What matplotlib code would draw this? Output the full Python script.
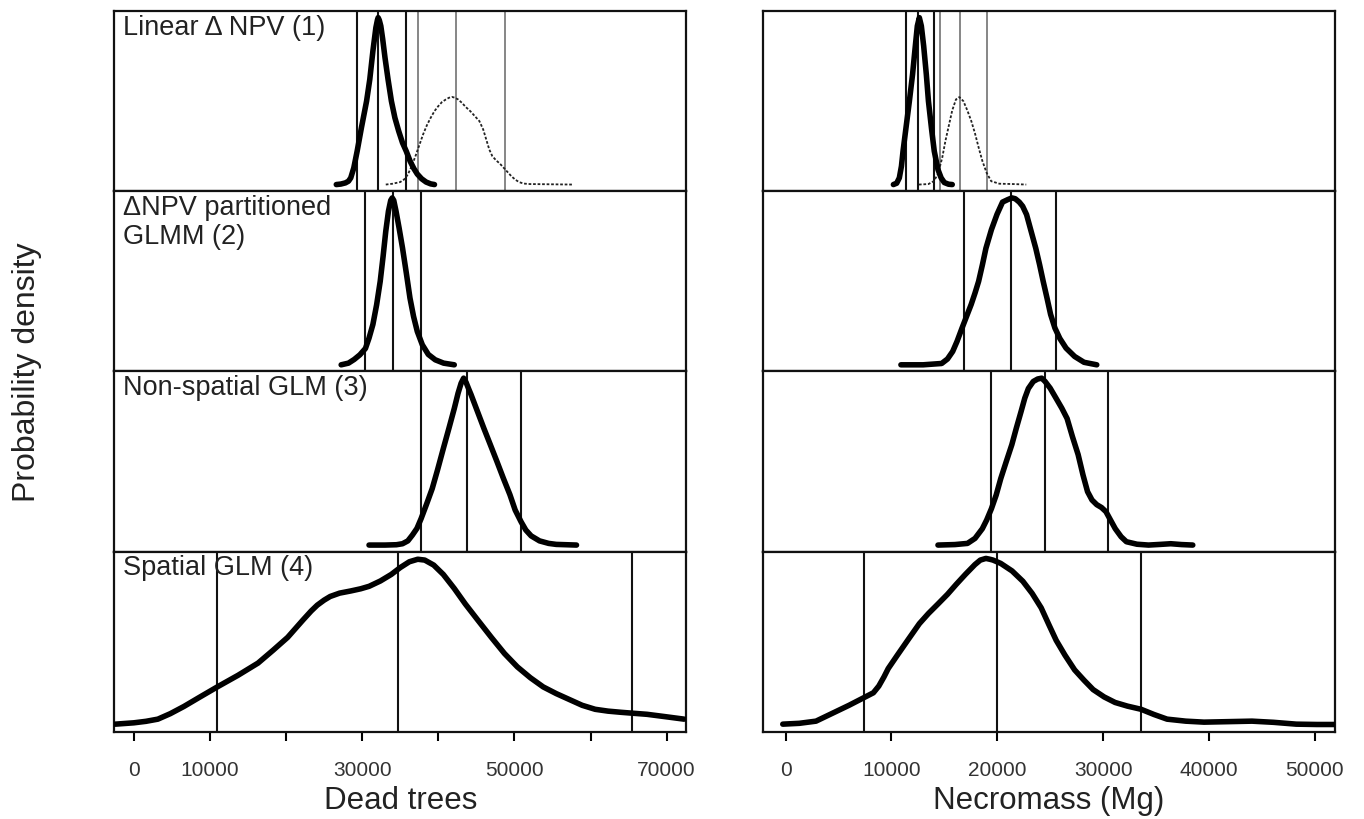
import matplotlib
matplotlib.use("Agg")
import matplotlib.pyplot as plt

plt.rcParams["font.family"] = ["Liberation Sans", "DejaVu Sans"]

# --- Dead trees (left column) ---
deadXLim = (-2600, 72600)
deadTicks = [0, 10000, 20000, 30000, 40000, 50000, 60000, 70000]
deadTickLabels = ["0", "10000", "", "30000", "", "50000", "", "70000"]

# panel 1: two densities (thick = model, thin dotted = comparison)
dead1X = [26600, 27200, 27800, 28200, 28500, 28900, 29340, 29900, 30580, 31000, 31410, 31800, 32000, 32100, 32250, 32450, 32700, 33000, 33400, 33840, 34300, 34800, 35300, 35790, 36300, 36800, 37240, 37800, 38400, 39000, 39500]
dead1Y = [0.0, 0.003, 0.01, 0.02, 0.04, 0.10, 0.20, 0.34, 0.50, 0.63, 0.80, 0.94, 0.985, 1.0, 0.985, 0.95, 0.87, 0.76, 0.63, 0.50, 0.40, 0.32, 0.25, 0.20, 0.14, 0.095, 0.063, 0.035, 0.015, 0.004, 0.0]
dead1bX = [33100, 34000, 35000, 35500, 36000, 36500, 37000, 37500, 38000, 38500, 39000, 39500, 40000, 40500, 41000, 41400, 41800, 42200, 42600, 43100, 43600, 44200, 44800, 45400, 45900, 46300, 46700, 47100, 47600, 48100, 48600, 49100, 49600, 50100, 50600, 51200, 52000, 54000, 57600]
dead1bY = [0.0, 0.005, 0.015, 0.03, 0.06, 0.11, 0.17, 0.235, 0.30, 0.355, 0.40, 0.44, 0.47, 0.495, 0.51, 0.52, 0.525, 0.52, 0.51, 0.49, 0.465, 0.44, 0.41, 0.38, 0.33, 0.27, 0.21, 0.17, 0.145, 0.125, 0.10, 0.075, 0.05, 0.03, 0.015, 0.006, 0.003, 0.002, 0.0]
dead1Lines = [29340, 32100, 35790]
dead1bLines = [37370, 42370, 48820]

dead2X = [27240, 28200, 28950, 29700, 30430, 30900, 31410, 31900, 32370, 32750, 33100, 33450, 33750, 33950, 34150, 34450, 34850, 35300, 35800, 36280, 36750, 37240, 37900, 38690, 39600, 40700, 42100]
dead2Y = [0.0, 0.01, 0.032, 0.06, 0.098, 0.16, 0.242, 0.36, 0.50, 0.65, 0.80, 0.92, 0.985, 1.0, 0.985, 0.92, 0.82, 0.70, 0.55, 0.40, 0.29, 0.20, 0.12, 0.062, 0.03, 0.01, 0.0]
dead2Lines = [30430, 34080, 37740]

dead3X = [30900, 33000, 34500, 35300, 36000, 36600, 37200, 37740, 38500, 39200, 39900, 40660, 41400, 42100, 42600, 43000, 43330, 43650, 44000, 44300, 45150, 46000, 46850, 47710, 48550, 49410, 50100, 50870, 51500, 52200, 53300, 54500, 55500, 58160]
dead3Y = [0.0, 0.0, 0.002, 0.008, 0.025, 0.06, 0.10, 0.158, 0.25, 0.338, 0.45, 0.578, 0.70, 0.818, 0.91, 0.97, 1.0, 0.975, 0.935, 0.902, 0.80, 0.698, 0.60, 0.50, 0.40, 0.302, 0.21, 0.14, 0.09, 0.055, 0.025, 0.01, 0.004, 0.0]
dead3Lines = [37740, 43820, 50880]

dead4X = [-2430, 0, 1600, 3160, 4800, 6580, 8700, 10960, 13700, 16320, 18300, 20210, 22200, 23300, 24100, 25000, 25800, 27030, 28500, 29800, 30920, 32400, 33820, 35000, 36200, 37300, 38220, 39400, 40660, 42100, 43550, 45200, 46970, 48700, 50390, 52100, 53790, 55500, 57200, 58900, 60610, 62300, 64010, 65700, 67420, 69800, 72290]
dead4Y = [0.007, 0.015, 0.024, 0.037, 0.07, 0.113, 0.17, 0.23, 0.30, 0.373, 0.45, 0.527, 0.63, 0.685, 0.72, 0.75, 0.772, 0.792, 0.805, 0.818, 0.833, 0.865, 0.904, 0.945, 0.98, 0.995, 0.99, 0.96, 0.904, 0.82, 0.727, 0.63, 0.527, 0.43, 0.35, 0.285, 0.23, 0.19, 0.155, 0.12, 0.096, 0.085, 0.078, 0.072, 0.066, 0.052, 0.037]
dead4Lines = [10960, 34710, 65470]

# --- Necromass (right column) ---
massXLim = (-2170, 51900)
massTicks = [0, 10000, 20000, 30000, 40000, 50000]
massTickLabels = ["0", "10000", "20000", "30000", "40000", "50000"]

mass1X = [10190, 10500, 10750, 10950, 11100, 11400, 11700, 12000, 12230, 12450, 12640, 12830, 13050, 13300, 13500, 13800, 14050, 14400, 14700, 15000, 15400, 15750]
mass1Y = [0.0, 0.008, 0.04, 0.11, 0.20, 0.35, 0.50, 0.66, 0.81, 0.95, 1.0, 0.95, 0.83, 0.66, 0.50, 0.33, 0.20, 0.09, 0.04, 0.012, 0.002, 0.0]
mass1bX = [12600, 13500, 14000, 14400, 14800, 15100, 15450, 15750, 16100, 16420, 16800, 17170, 17550, 17900, 18250, 18590, 19000, 19430, 20200, 21500, 22740]
mass1bY = [0.0, 0.003, 0.02, 0.063, 0.16, 0.26, 0.36, 0.445, 0.51, 0.524, 0.50, 0.445, 0.38, 0.306, 0.22, 0.142, 0.07, 0.02, 0.005, 0.003, 0.0]
mass1Lines = [11400, 12550, 14060]
mass1bLines = [14570, 16490, 19000]

mass2X = [10900, 13000, 14750, 15300, 15790, 16200, 16660, 17100, 17540, 17900, 18240, 18600, 18930, 19450, 19980, 20500, 21000, 21380, 21700, 22080, 22400, 22770, 23200, 23640, 24000, 24340, 24700, 25040, 25450, 25910, 26500, 27310, 28200, 29400]
mass2Y = [0.0, 0.0, 0.008, 0.035, 0.08, 0.14, 0.218, 0.29, 0.362, 0.43, 0.50, 0.60, 0.698, 0.81, 0.902, 0.975, 0.99, 1.0, 0.995, 0.975, 0.95, 0.90, 0.80, 0.698, 0.60, 0.50, 0.40, 0.302, 0.22, 0.158, 0.10, 0.05, 0.015, 0.0]
mass2Lines = [16840, 21300, 25570]

mass3X = [14400, 16000, 17190, 17900, 18590, 19000, 19450, 19900, 20330, 20850, 21380, 21800, 22250, 22600, 22940, 23400, 23820, 24200, 24520, 25000, 25570, 26100, 26600, 27100, 27640, 28100, 28530, 28950, 29400, 29850, 30270, 30700, 31150, 31700, 32200, 33200, 34290, 35400, 36390, 37400, 38470]
mass3Y = [0.0, 0.003, 0.01, 0.04, 0.098, 0.15, 0.218, 0.30, 0.398, 0.50, 0.602, 0.70, 0.80, 0.88, 0.938, 0.98, 0.995, 1.0, 0.98, 0.94, 0.878, 0.82, 0.758, 0.65, 0.542, 0.42, 0.32, 0.27, 0.242, 0.225, 0.20, 0.15, 0.098, 0.05, 0.02, 0.005, 0.0, 0.004, 0.008, 0.003, 0.0]
mass3Lines = [19450, 24520, 30450]

mass4X = [-260, 1300, 2880, 3700, 4620, 6000, 7440, 8300, 8810, 9300, 9700, 10560, 11600, 12640, 13500, 14400, 15300, 16130, 17000, 17890, 18400, 18930, 19300, 19600, 20330, 21400, 22420, 23300, 24150, 24900, 25570, 26400, 27310, 28200, 29060, 30100, 31130, 32300, 33590, 34800, 36040, 37800, 39530, 41800, 44060, 46100, 48250, 50200, 52100]
mass4Y = [0.007, 0.012, 0.025, 0.05, 0.078, 0.12, 0.167, 0.195, 0.235, 0.29, 0.34, 0.42, 0.515, 0.609, 0.67, 0.727, 0.785, 0.845, 0.905, 0.963, 0.99, 1.0, 0.995, 0.99, 0.97, 0.925, 0.863, 0.79, 0.704, 0.60, 0.509, 0.42, 0.332, 0.27, 0.214, 0.17, 0.137, 0.115, 0.096, 0.065, 0.037, 0.025, 0.019, 0.022, 0.025, 0.018, 0.007, 0.005, 0.005]
mass4Lines = [7390, 19930, 33590]

panelTitles = ["Linear \u0394 NPV (1)", "\u0394NPV partitioned\nGLMM (2)", "Non-spatial GLM (3)", "Spatial GLM (4)"]


def DrawPanel(ax, xValues, yValues, lines, xLim, secondX=None, secondY=None, secondLines=None):
    for v in lines:
        ax.axvline(v, color="#111111", linewidth=1.5, zorder=2)
    if secondLines is not None:
        for v in secondLines:
            ax.axvline(v, color="#666666", linewidth=1.1, zorder=2)
    if secondX is not None:
        ax.plot(secondX, secondY, color="#222222", linewidth=1.3, linestyle=(0, (1.5, 1.0)), zorder=3)
    ax.plot(xValues, yValues, color="black", linewidth=4, solid_capstyle="round",
            solid_joinstyle="round", zorder=4)
    ax.set_xlim(*xLim)
    ax.set_ylim(-0.04, 1.04)
    ax.set_yticks([])
    for s in ax.spines.values():
        s.set_linewidth(1.6)
        s.set_color("#111111")


fig, axes = plt.subplots(4, 2, figsize=(13.64, 8.2), dpi=100)
fig.subplots_adjust(left=0.0836, right=0.9787, top=0.9854, bottom=0.1061, hspace=0, wspace=0.133)

deadData = [(dead1X, dead1Y, dead1Lines), (dead2X, dead2Y, dead2Lines), (dead3X, dead3Y, dead3Lines), (dead4X, dead4Y, dead4Lines)]
massData = [(mass1X, mass1Y, mass1Lines), (mass2X, mass2Y, mass2Lines), (mass3X, mass3Y, mass3Lines), (mass4X, mass4Y, mass4Lines)]

for i in range(4):
    axL = axes[i][0]
    axR = axes[i][1]
    if i == 0:
        DrawPanel(axL, *deadData[i], deadXLim, dead1bX, dead1bY, dead1bLines)
        DrawPanel(axR, *massData[i], massXLim, mass1bX, mass1bY, mass1bLines)
    else:
        DrawPanel(axL, *deadData[i], deadXLim)
        DrawPanel(axR, *massData[i], massXLim)
    axL.text(0.016, 0.985, panelTitles[i], transform=axL.transAxes, ha="left", va="top",
             fontsize=19.5, color="#222222", linespacing=1.15, zorder=5)
    if i < 3:
        axL.set_xticks([])
        axR.set_xticks([])

axes[3][0].set_xticks(deadTicks)
axes[3][0].set_xticklabels(deadTickLabels)
axes[3][1].set_xticks(massTicks)
axes[3][1].set_xticklabels(massTickLabels)
for ax in (axes[3][0], axes[3][1]):
    ax.tick_params(axis="x", direction="out", length=6.5, width=1.5, pad=14, labelsize=15, labelcolor="#333333")

axes[3][0].set_xlabel("Dead trees", fontsize=22.5, color="#222222", labelpad=4)
axes[3][1].set_xlabel("Necromass (Mg)", fontsize=22.5, color="#222222", labelpad=4)
fig.text(0.02, 0.546, "Probability density", rotation=90, ha="center", va="center", fontsize=23, color="#222222")

plt.savefig("out.png", dpi=100)
